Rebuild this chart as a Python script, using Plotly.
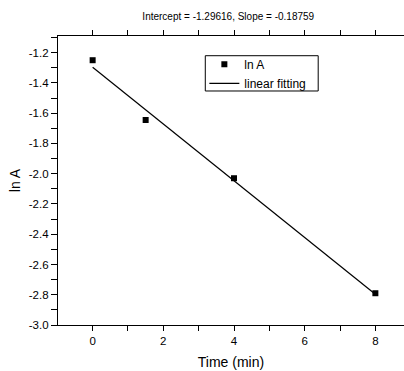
import plotly.graph_objects as go

time_min = [0, 1.5, 4, 8]
ln_a = [-1.25, -1.645, -2.03, -2.79]
fit_x = [0, 8]
fit_y = [-1.29616, -2.79688]
title_text = "Intercept = -1.29616, Slope = -0.18759"

x_tick_vals = [0, 1, 2, 3, 4, 5, 6, 7, 8]
x_tick_text = ["0", "", "2", "", "4", "", "6", "", "8"]
y_tick_vals = [-3.0, -2.9, -2.8, -2.7, -2.6, -2.5, -2.4, -2.3, -2.2, -2.1, -2.0,
               -1.9, -1.8, -1.7, -1.6, -1.5, -1.4, -1.3, -1.2, -1.1]
y_tick_text = ["-3.0", "", "-2.8", "", "-2.6", "", "-2.4", "", "-2.2", "", "-2.0",
               "", "-1.8", "", "-1.6", "", "-1.4", "", "-1.2", ""]

FONT = "Liberation Sans, Arial, sans-serif"
XR = [-0.98, 8.81]
YR = [-3.0, -1.09]

fig = go.Figure()
fig.add_trace(go.Scatter(x=time_min, y=ln_a, mode="markers", name="ln A",
                         marker=dict(symbol="square", size=6, color="black")))
fig.add_trace(go.Scatter(x=fit_x, y=fit_y, mode="lines", name="linear fitting",
                         line=dict(color="black", width=1.2)))

axis_common = dict(showgrid=False, zeroline=False, showline=True, linecolor="black",
                   linewidth=1.2, tickcolor="black")

fig.update_layout(
    width=404, height=371,
    margin=dict(l=58, r=0, t=36, b=46),
    paper_bgcolor="white", plot_bgcolor="white",
    font=dict(family=FONT, color="black", size=11),
    title=dict(text=title_text, x=0.565, xanchor="center", y=0.955, yanchor="middle",
               font=dict(size=10, family=FONT, color="black")),
    legend=dict(x=0.423, y=0.952, xanchor="left", yanchor="top",
                borderwidth=0, bgcolor="rgba(0,0,0,0)",
                font=dict(size=12, family=FONT, color="black"),
                itemwidth=30, tracegroupgap=0),
    showlegend=True,
    xaxis=dict(range=XR, tickmode="array", tickvals=x_tick_vals, ticktext=x_tick_text,
               mirror="ticks", ticks="outside", ticklen=5, tickwidth=1.1,
               tickfont=dict(size=11.5),
               title=dict(text="Time (min)", font=dict(size=14, family=FONT, color="black"),
                          standoff=11),
               **axis_common),
    yaxis=dict(range=YR, tickmode="array", tickvals=y_tick_vals, ticktext=y_tick_text,
               mirror=False, ticks="outside", ticklen=6, tickwidth=1.1,
               tickfont=dict(size=11.5),
               title=dict(text="ln A", font=dict(size=14, family=FONT, color="black"),
                          standoff=4),
               **axis_common),
    shapes=[dict(type="rect", xref="paper", yref="paper",
                 x0=0.4257, x1=0.752, y0=0.8097, y1=0.9318,
                 line=dict(color="black", width=1), fillcolor="rgba(0,0,0,0)", layer="above")],
)

fig.write_html("out.html")
